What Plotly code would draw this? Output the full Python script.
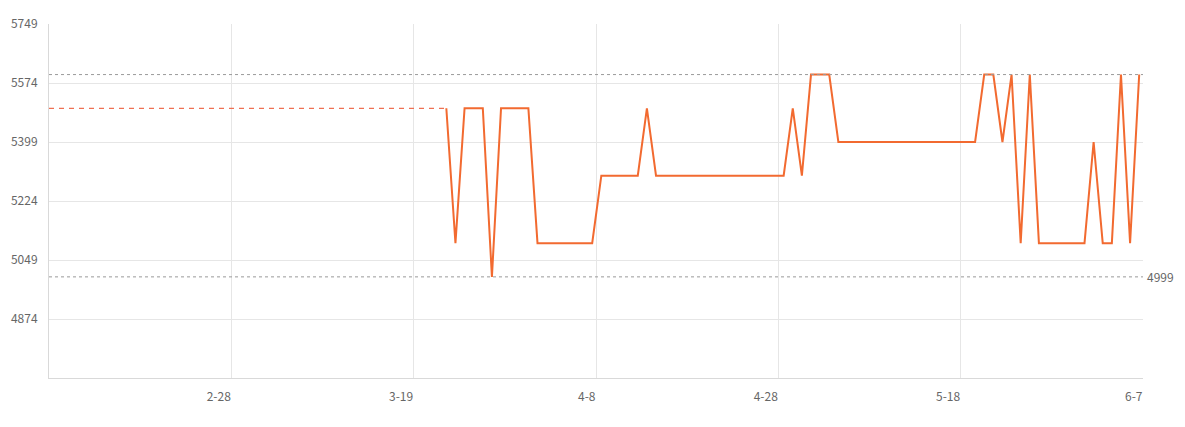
import pandas as pd
import plotly.graph_objects as go

# prix quotidien (un point par jour, du 22 mars au 6 juin)
START_DATE = "2024-03-22 14:00"
prices = [
    5499, 5099, 5499, 5499, 5499, 4999, 5499, 5499, 5499, 5499,
    5099, 5099, 5099, 5099, 5099, 5099, 5099,
    5299, 5299, 5299, 5299, 5299, 5499,
    5299, 5299, 5299, 5299, 5299, 5299, 5299, 5299, 5299, 5299, 5299, 5299, 5299, 5299, 5299,
    5499, 5299, 5599, 5599, 5599,
    5399, 5399, 5399, 5399, 5399, 5399, 5399, 5399, 5399, 5399, 5399, 5399, 5399, 5399, 5399, 5399,
    5599, 5599, 5399, 5599, 5099, 5599,
    5099, 5099, 5099, 5099, 5099, 5099,
    5399, 5099, 5099, 5599, 5099, 5599,
]
dates = pd.date_range(start=START_DATE, periods=len(prices), freq="D")

x_range = ["2024-02-08", "2024-06-07"]
tick_dates = ["2024-02-28", "2024-03-19", "2024-04-08", "2024-04-28", "2024-05-18", "2024-06-07"]
tick_labels = ["2-28", "3-19", "4-8", "4-28", "5-18", "6-7"]
y_ticks = [4874, 5049, 5224, 5399, 5574, 5749]
max_price = 5599
min_price = 4999

LINE_COLOR = "#f26a30"
GRID = "#e6e6e6"
TXT = "#666666"

fig = go.Figure()

# extension en pointillés avant le premier point connu
fig.add_trace(go.Scatter(
    x=[x_range[0], dates[0]], y=[prices[0], prices[0]],
    mode="lines", line=dict(color="#ef7052", width=1.2, dash="5px,5px"),
    hoverinfo="skip",
))
fig.add_trace(go.Scatter(
    x=dates, y=prices, mode="lines",
    line=dict(color=LINE_COLOR, width=2),
))

for val in (max_price, min_price):
    fig.add_shape(type="line", xref="paper", x0=0, x1=1, yref="y", y0=val, y1=val,
                  line=dict(color="#9a9a9a", width=1, dash="dot"))

fig.add_annotation(xref="paper", x=1, yref="y", y=min_price, text=str(min_price),
                   showarrow=False, xanchor="left", xshift=2,
                   font=dict(size=12, color=TXT))

fig.update_xaxes(
    range=x_range, tickvals=tick_dates, ticktext=tick_labels,
    showgrid=True, gridcolor=GRID, gridwidth=1,
    showline=True, linecolor="#d9d9d9", linewidth=1,
    ticks="", ticklabelposition="outside left", ticklabelstandoff=8,
    tickfont=dict(size=12, color=TXT), zeroline=False,
)
fig.update_yaxes(
    range=[4699, 5749], tickvals=y_ticks,
    showgrid=True, gridcolor=GRID, gridwidth=1,
    showline=True, linecolor="#d9d9d9", linewidth=1,
    ticks="", ticklabelstandoff=8,
    tickfont=dict(size=12, color=TXT), zeroline=False,
)

fig.update_layout(
    width=1185, height=427,
    margin=dict(l=49, r=42, t=24, b=49),
    plot_bgcolor="white", paper_bgcolor="white",
    showlegend=False,
    font=dict(family="Noto Sans CJK SC, Open Sans, sans-serif"),
)

# pas de marge de page, pour que la figure occupe toute la fenêtre
fig.write_html("out.html", config={"displayModeBar": False},
               post_script="document.body.style.margin='0';")
